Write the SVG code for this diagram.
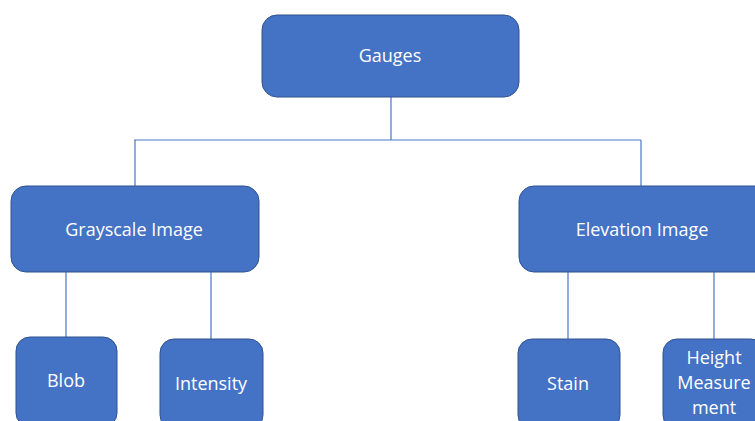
<svg xmlns="http://www.w3.org/2000/svg" width="755" height="421" viewBox="0 0 755 421">
  <style>
    .box { fill: #4472C4; stroke: #2F528F; stroke-width: 1; }
    .lbl { fill: #FFFFFF; font-family: "Open Sans", "Liberation Sans", sans-serif; font-size: 18px; text-anchor: middle; dominant-baseline: central; }
    .wire { stroke: #4A78C8; stroke-width: 1.2; fill: none; }
  </style>
  <rect width="755" height="421" fill="#FFFFFF"/>
  <g id="connectors">
    <path class="wire" d="M391 97 V140 M134 140 H641 M135 140 V186 M641 140 V186"/>
    <path class="wire" d="M66 272 V337 M211 272 V339"/>
    <path class="wire" d="M568 272 V339 M714 272 V339"/>
  </g>
  <g id="gauges">
    <rect class="box" x="262" y="15" width="257" height="82" rx="15"/>
    <text class="lbl" x="390" y="55">Gauges</text>
  </g>
  <g id="grayscale">
    <rect class="box" x="11" y="186" width="248" height="86" rx="15"/>
    <text class="lbl" x="134" y="229">Grayscale Image</text>
  </g>
  <g id="elevation">
    <rect class="box" x="519" y="186" width="260" height="86" rx="15"/>
    <text class="lbl" x="642" y="229">Elevation Image</text>
  </g>
  <g id="blob">
    <rect class="box" x="16" y="337" width="101" height="90" rx="14"/>
    <text class="lbl" x="66" y="380">Blob</text>
  </g>
  <g id="intensity">
    <rect class="box" x="160" y="339" width="103" height="90" rx="14"/>
    <text class="lbl" x="211" y="383">Intensity</text>
  </g>
  <g id="stain">
    <rect class="box" x="518" y="339" width="102" height="90" rx="14"/>
    <text class="lbl" x="568" y="383">Stain</text>
  </g>
  <g id="height">
    <rect class="box" x="663" y="339" width="102" height="90" rx="14"/>
    <text class="lbl" x="714" y="357">Height</text>
    <text class="lbl" x="714" y="382">Measure</text>
    <text class="lbl" x="714" y="407">ment</text>
  </g>
</svg>
